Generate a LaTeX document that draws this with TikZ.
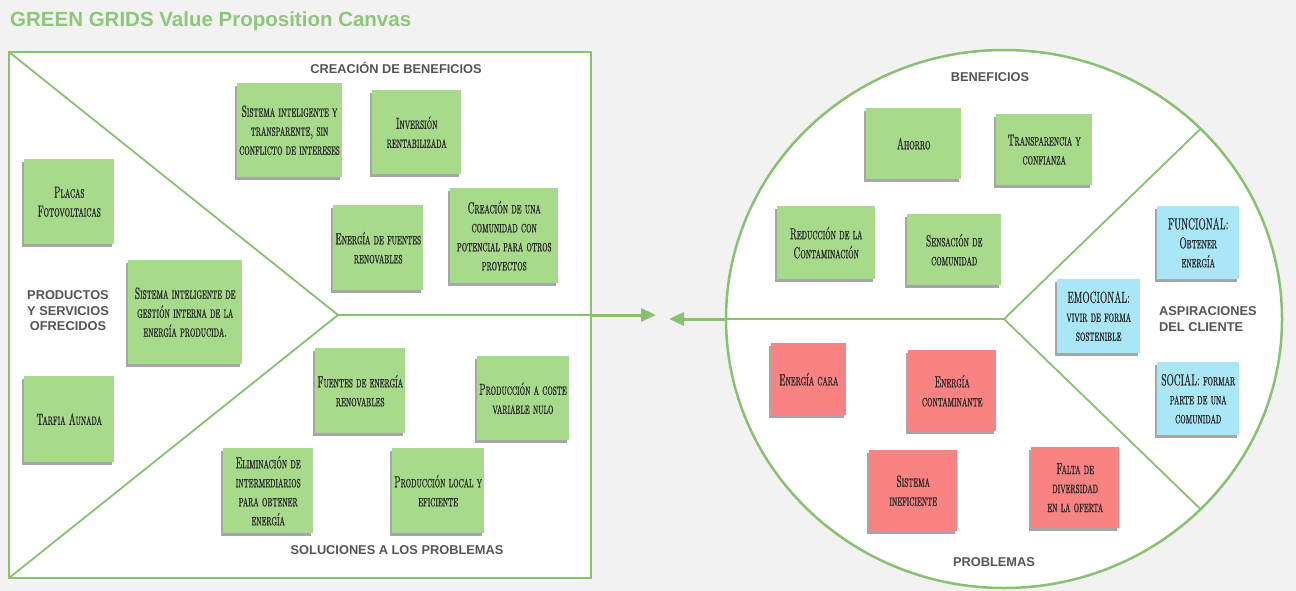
\documentclass[tikz,border=0pt]{standalone}
\usepackage{fontspec}
\setsansfont{Liberation Sans}
\newfontfamily\notefont[FakeStretch=0.54,FakeBold=0.8]{lmromancaps10-regular.otf}
\usetikzlibrary{positioning,shadows,arrows.meta}

\definecolor{canvasbg}{HTML}{F2F2F2}
\definecolor{framegreen}{HTML}{88C170}
\definecolor{titlegreen}{HTML}{8EC67C}
\definecolor{labelgrey}{HTML}{555555}
\definecolor{notegreen}{HTML}{A8DA8B}
\definecolor{noteblue}{HTML}{A9E7F8}
\definecolor{notered}{HTML}{F98282}
\definecolor{noteink}{HTML}{2A2A2A}

\begin{document}
\begin{tikzpicture}[x=1pt,y=-1pt,
    frame/.style={draw=framegreen,line width=2.5pt,fill=white},
    divider/.style={draw=framegreen,line width=1.8pt},
    bigarrow/.style={draw=framegreen,line width=3pt,-{Triangle[length=15pt,width=13pt]}},
    note/.style={anchor=north west,inner sep=2pt,align=center,text=noteink,
        font={\notefont\fontsize{16}{19}\selectfont},
        drop shadow={shadow xshift=-2pt,shadow yshift=-2.5pt,opacity=0.35,fill=black}},
    notesize/.style 2 args={minimum width=#1pt,minimum height=#2pt},
    green note/.style={note,fill=notegreen},
    blue note/.style={note,fill=noteblue},
    red note/.style={note,fill=notered},
    section/.style={text=labelgrey,align=center,inner sep=0pt,
        font={\sffamily\bfseries\fontsize{12.8}{15.5}\selectfont}}]

        % Canvas
        \fill[canvasbg] (0,0) rectangle (1296,591);
        \useasboundingbox (0,0) rectangle (1296,591);
        \node[anchor=base west,inner sep=0pt,text=titlegreen,
            font={\sffamily\bfseries\fontsize{20.5}{24}\selectfont}] (title) at (10,27)
            {GREEN GRIDS Value Proposition Canvas};

        % Define frame points
        \coordinate (sqnw) at (9,52);
        \coordinate (sqse) at (591,578);
        \coordinate (sqsw) at (9,578);
        \coordinate (apex) at (338,315);
        \coordinate (sqright) at (591,315);
        \coordinate (tipleft) at (656,315);
        \coordinate (hub) at (1004,319);
        \coordinate (rimleft) at (726,319);
        \coordinate (rimup) at (1200.6,128.8);
        \coordinate (rimdown) at (1200.6,509.2);
        \coordinate (tipright) at (669,319);

        % Draw frames
        \draw[frame] (sqnw) rectangle (sqse);
        \draw[frame] (hub) ellipse [x radius=278pt,y radius=269pt];
        \path[divider]
            (sqnw) edge (apex)
            (apex) edge (sqsw)
            (apex) edge (sqright)
            (rimleft) edge (hub)
            (hub) edge (rimup)
            (hub) edge (rimdown);

        % Draw arrows
        \draw[bigarrow] (sqright) -- (tipleft);
        \draw[bigarrow] (rimleft) -- (tipright);

        % Section labels
        \node[section] (creacion) at (396,68) {CREACIÓN DE BENEFICIOS};
        \node[section] (productos) at (68,311) {PRODUCTOS\\Y SERVICIOS\\OFRECIDOS};
        \node[section] (soluciones) at (397,550) {SOLUCIONES A LOS PROBLEMAS};
        \node[section] (beneficios) at (990,77) {BENEFICIOS};
        \node[section,align=left,anchor=west] (aspiraciones) at (1159,319) {ASPIRACIONES\\DEL CLIENTE};
        \node[section] (problemas) at (994,562) {PROBLEMAS};

        % Value map notes
        \node[green note,notesize={90}{85}] (placas) at (24,159) {Placas\\Fotovoltaicas};
        \node[green note,notesize={114}{104}] (gestion) at (128,260) {Sistema inteligente de\\gestión interna de la\\energía producida.};
        \node[green note,notesize={90}{86}] (tarifa) at (24,376) {Tarfia Aunada};
        \node[green note,notesize={103}{94}] (transparente) at (237,83) {Sistema inteligente y\\transparente, sin\\conflicto de intereses};
        \node[green note,notesize={89}{84}] (inversion) at (372,90) {Inversión\\rentabilizada};
        \node[green note,notesize={90}{85}] (fuentes) at (333,205) {Energía de fuentes\\renovables};
        \node[green note,notesize={108}{95}] (comunidad) at (450,188) {Creación de una\\comunidad con\\potencial para otros\\proyectos};
        \node[green note,notesize={90}{85}] (renovables) at (315,348) {Fuentes de energía\\renovables};
        \node[green note,notesize={90}{84}] (coste) at (477,356) {Producción a coste\\variable nulo};
        \node[green note,notesize={90}{85}] (intermediarios) at (223,448) {Eliminación de\\intermediarios\\para obtener\\energía};
        \node[green note,notesize={90}{85}] (local) at (392,448) {Producción local y\\eficiente};

        % Customer profile notes
        \node[green note,notesize={95}{71}] (ahorro) at (866,108) {Ahorro};
        \node[green note,notesize={96}{71}] (confianza) at (996,114) {Transparencia y\\confianza};
        \node[green note,notesize={98}{73}] (contaminacion) at (777,206) {Reducción de la\\Contaminación};
        \node[green note,notesize={94}{71}] (sensacion) at (907,214) {Sensación de\\comunidad};
        \node[blue note,notesize={82}{73}] (funcional) at (1157,206) {FUNCIONAL:\\Obtener\\energía};
        \node[blue note,notesize={83}{74}] (emocional) at (1057,279) {EMOCIONAL:\\vivir de forma\\sostenible};
        \node[blue note,notesize={82}{73}] (social) at (1157,362) {SOCIAL: formar\\parte de una\\comunidad};
        \node[red note,notesize={75}{72}] (cara) at (771,343) {Energía cara};
        \node[red note,notesize={88}{81}] (contaminante) at (908,350) {Energía\\contaminante};
        \node[red note,notesize={88}{81}] (ineficiente) at (869,450) {Sistema\\ineficiente};
        \node[red note,notesize={88}{81}] (oferta) at (1031,447) {Falta de\\diversidad\\en la oferta};

\end{tikzpicture}
\end{document}
